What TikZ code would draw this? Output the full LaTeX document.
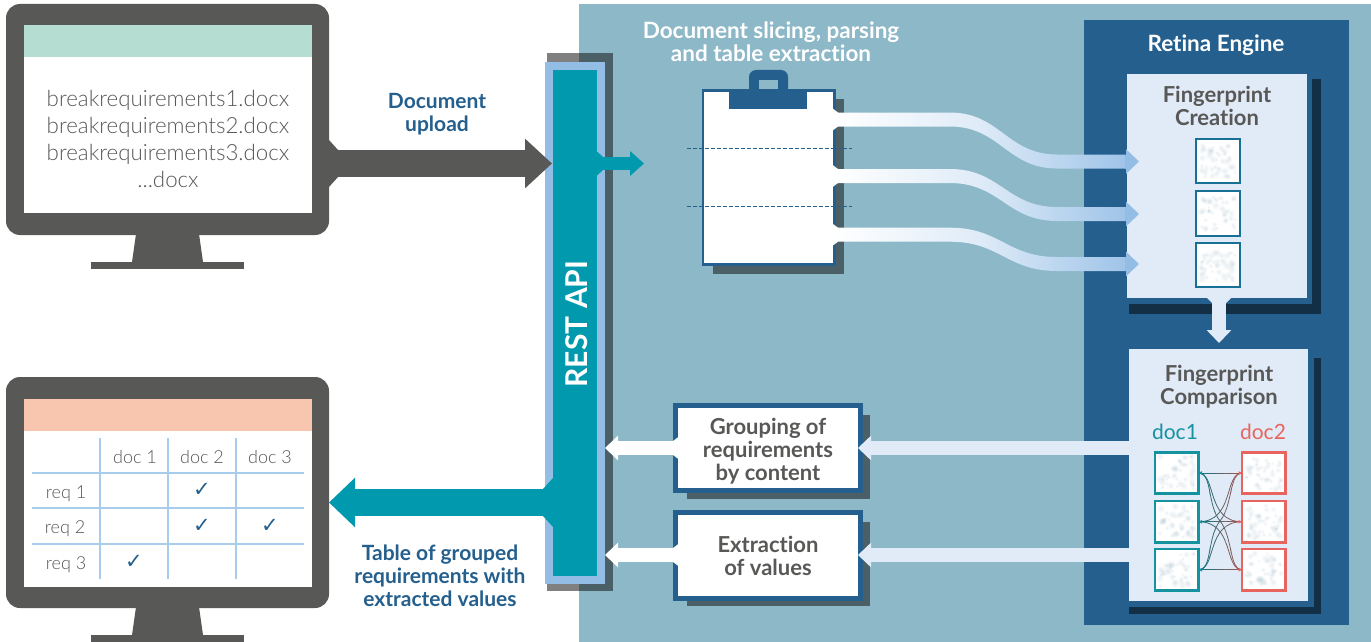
\documentclass[tikz,border=0pt]{standalone}
\usepackage{fontspec}
\setmainfont{Lato}[Ligatures=NoCommon]
\newfontfamily\lightfont{Lato}[UprightFont=* Light,Ligatures=NoCommon]
\newfontfamily\symfont{DejaVu Sans}
\usetikzlibrary{arrows.meta,calc}
\definecolor{panelbg}{HTML}{8CB8C8}
\definecolor{enginebl}{HTML}{245F8D}
\definecolor{shadowc}{HTML}{4A5F66}
\definecolor{darkshadow}{HTML}{122F45}
\definecolor{lightbl}{HTML}{94BDE6}
\definecolor{paleb}{HTML}{E1EBF7}
\definecolor{tealc}{HTML}{0099AD}
\definecolor{monitorc}{HTML}{585857}
\definecolor{textg}{HTML}{585857}
\definecolor{screeng}{HTML}{B5DDD2}
\definecolor{screeno}{HTML}{F8C6AF}
\definecolor{gridc}{HTML}{A8CDEC}
\definecolor{reddoc}{HTML}{E8655F}
\definecolor{tealdoc}{HTML}{14929F}
\definecolor{speck}{HTML}{2F7396}
\pgfmathsetseed{4242}
\tikzset{
  bt/.style={font=\bfseries\fontsize{21}{23}\selectfont,align=center,inner sep=0,outer sep=0},
  bluetext/.style={bt,text=enginebl},
  whitetext/.style={bt,text=white,font=\bfseries\fontsize{22.5}{23}\selectfont},
  greytext/.style={bt,text=textg,font=\bfseries\fontsize{22}{23}\selectfont},
  filetext/.style={font=\lightfont\fontsize{22.3}{26.7}\selectfont,align=center,text=textg,inner sep=0},
  celltext/.style={font=\lightfont\fontsize{18}{18}\selectfont,text=textg,inner sep=0},
  checktext/.style={font=\symfont\fontsize{21}{21}\selectfont,text=enginebl,inner sep=0},
  doctext/.style={font=\fontsize{21}{23}\selectfont,inner sep=0},
  gridline/.style={draw=gridc,line width=1.3pt},
  blockarrow/.style n args={3}{line width=#1pt,-{Triangle[length=#2pt,width=#3pt]}},
  flowfill/.style={left color=white,right color=lightbl!90!white,middle color=white!70!lightbl},
}
\newcommand\bx[6]{\node[#2,inner sep=0,outer sep=0,minimum width={(#5-#3)*1pt},minimum height={(#6-#4)*1pt}] (#1) at ({(#3+#5)/2},{(#4+#6)/2}) {};}
\newcommand\speckle[1]{%
  \foreach \i in {1,...,42}{%
    \pgfmathsetmacro\dx{rand*17.5}\pgfmathsetmacro\dy{rand*16.5}\pgfmathsetmacro\rr{1.6+rnd*2.6}%
    \fill[speck,opacity=.025] ([shift={(\dx pt,\dy pt)}]#1.center) circle[radius=\rr];
    \fill[speck,opacity=.03] ([shift={(\dx pt,\dy pt)}]#1.center) circle[radius=\rr*.65];
    \fill[speck,opacity=.035] ([shift={(\dx pt,\dy pt)}]#1.center) circle[radius=\rr*.35];
  }}
\newcommand\monitor[3]{%
  \fill[monitorc,rounded corners=14pt] (6,#2) rectangle (329,#3);
  \fill[monitorc] (136,#3-1) -- (199,#3-1) -- (203,#3+27) -- (132,#3+27) -- cycle;
  \fill[monitorc] (91,#3+27) rectangle (244,#3+34);
}
\newcommand\flowband[4]{%
  \shade[flowfill] (#1,#3-7) -- (950,#3-7) .. controls (1000,#3-7) and (1007,#4-7) .. (1057,#4-7) -- (#2,#4-7)
     -- (#2,#4+7) -- (1057,#4+7) .. controls (1007,#4+7) and (1000,#3+7) .. (950,#3+7) -- (#1,#3+7) -- cycle;
  \fill[white] (832,#3-11.5) -- (838,#3-7) -- (838,#3+7) -- (832,#3+11.5) -- cycle;
}
\newcommand\alllinks{%
  \draw (dat.east) -- (eat.west);
  \draw (dbt.east) -- (ebt.west);
  \draw (dct.east) -- (ect.west);
  \draw (dat.east) .. controls +(18,0) and +(-36,0) .. (ebt.west);
  \draw (dct.east) .. controls +(18,0) and +(-36,0) .. (ebt.west);
  \draw (dbt.east) .. controls +(36,0) and +(-18,0) .. (eat.west);
  \draw (dbt.east) .. controls +(36,0) and +(-18,0) .. (ect.west);
  \draw (dat.east) .. controls +(14,0) and (1207,505) .. (1220,521) .. controls (1233,537) and ($(ect.west)+(-13,0)$) .. (ect.west);
  \draw (dct.east) .. controls +(14,0) and (1207,537) .. (1220,521) .. controls (1233,505) and ($(eat.west)+(-13,0)$) .. (eat.west);
}
\begin{document}
\begin{tikzpicture}[x=1pt,y=-1pt]
\useasboundingbox (0,0) rectangle (1371,642);
\fill[white] (0,0) rectangle (1371,642);
\fill[black!50] (547,53) rectangle (579,591);
\bx{panel}{fill=panelbg}{579}{4}{1371}{642}
\bx{engine}{fill=enginebl}{1084}{20}{1349}{625}
\node[whitetext] (retina) at (1216,45.5) {Retina Engine};
% REST API
\fill[shadowc] (579,53) rectangle (613,591);
\bx{restouter}{fill=lightbl}{545}{62}{605}{584}
\bx{rest}{fill=tealc}{553}{70}{597}{576}
\node[whitetext,rotate=90,font=\bfseries\fontsize{30}{32}\selectfont] (restlabel) at (577,324) {REST API};
% top monitor
\monitor{m1}{4}{235}
\bx{screen1}{fill=white}{24}{25}{312}{213}
\bx{head1}{fill=screeng}{24}{25}{312}{57}
\node[filetext] (files) at (168,139) {breakrequirements1.docx\\breakrequirements2.docx\\breakrequirements3.docx\\...docx};
% bottom monitor
\monitor{m2}{377}{608}
\bx{screen2}{fill=white}{24}{399}{312}{587}
\bx{head2}{fill=screeno}{24}{399}{312}{431}
\foreach \x in {100,168,236} \draw[gridline] (\x,438) -- (\x,579);
\foreach \y in {473,508,544} \draw[gridline] (32,\y) -- (304,\y);
\node[celltext] (c1) at (135,457) {doc 1};
\node[celltext] (c2) at (202,457) {doc 2};
\node[celltext] (c3) at (270,457) {doc 3};
\node[celltext] (r1) at (66,494) {req 1};
\node[celltext] (r2) at (65,529) {req 2};
\node[celltext] (r3) at (66,565) {req 3};
\node[checktext] (k1) at (202,490) {✓};
\node[checktext] (k2) at (202,526) {✓};
\node[checktext] (k3) at (270,526) {✓};
\node[checktext] (k4) at (134,562) {✓};
% big arrows
\coordinate (upA) at (329,163.5);
\coordinate (upB) at (552,163.5);
\fill[monitorc] (329,140) -- (338,150) -- (338,177) -- (329,187) -- cycle;
\draw[monitorc,blockarrow={27}{27}{48}] (upA) -- (upB);
\node[bluetext] (uplabel) at (437,114) {Document\\upload};
\coordinate (outA) at (553,502.5);
\coordinate (outB) at (329,502.5);
\fill[tealc] (553,478) -- (543,489) -- (543,516) -- (553,527) -- cycle;
\draw[tealc,blockarrow={27}{26}{48}] (outA) -- (outB);
\node[bluetext] (outlabel) at (440,576) {Table of grouped\\requirements with\\extracted values};
\coordinate (restOutA) at (597,163.5);
\coordinate (restOutB) at (644,163.5);
\fill[tealc] (597,151.5) -- (603,157) -- (603,170) -- (597,175.5) -- cycle;
\draw[tealc,blockarrow={13}{14}{24}] (restOutA) -- (restOutB);
% clipboard
\node[whitetext] (sliceLabel) at (771,42) {Document slicing, parsing\\and table extraction};
\fill[shadowc] (713,99) rectangle (844,274);
\node[draw=enginebl,fill=white,line width=2.7pt,inner sep=0,outer sep=0,minimum width=131.5pt,minimum height=174pt] (clip) at (768.75,177.5) {};
\fill[enginebl,rounded corners=7pt] (749,95) -- (749,70) -- (788,70) -- (788,95) -- cycle;
\fill[panelbg] (759,80) rectangle (778,89);
\fill[enginebl] (729,89) rectangle (807,109);
% fingerprint creation panel
\fill[darkshadow] (1129,79) rectangle (1321,314);
\fill[enginebl] (1127,74) rectangle (1312,304);
\bx{creation}{fill=paleb}{1127}{74}{1307}{298}
\node[greytext] (creationLabel) at (1217,105.5) {Fingerprint\\Creation};
\foreach \n/\a/\b in {fa/139/183,fb/190.5/235.5,fc/243/287}{
  \bx{\n}{fill=white}{1196}{\a}{1240}{\b}
  \speckle{\n}
  \bx{\n b}{draw=enginebl!70!tealc,line width=2pt}{1196}{\a}{1240}{\b}
}
% flow bands
\flowband{832}{1127}{119.5}{161.5}
\flowband{832}{1127}{176}{214}
\flowband{832}{1127}{234.7}{264}
\foreach \y [count=\k] in {161.5,214,264}{
  \coordinate (flowA\k) at (1125,\y);
  \coordinate (flowB\k) at (1139,\y);
  \draw[lightbl,blockarrow={14}{13}{24}] (flowA\k) -- (flowB\k);
}
\foreach \y in {148,206} \draw[enginebl,line width=1pt,dash pattern=on 3.5pt off 2.5pt] (687,\y) -- (852,\y);
% down arrow
\coordinate (dnA) at (1219,296);
\coordinate (dnB) at (1219,343);
\fill[paleb] (1207,298) -- (1212,303) -- (1226,303) -- (1231,298) -- cycle;
\draw[paleb,blockarrow={14}{13}{24}] (dnA) -- (dnB);
% fingerprint comparison panel
\fill[darkshadow] (1129,358) rectangle (1321,614);
\fill[enginebl] (1129,349) rectangle (1314,607);
\bx{comparison}{fill=paleb}{1129}{349}{1308}{601}
\node[greytext] (comparisonLabel) at (1219,386.5) {Fingerprint\\Comparison};
\node[doctext,text=tealdoc] (doc1) at (1175,432) {doc1};
\node[doctext,text=reddoc] (doc2) at (1263,432) {doc2};
\foreach \n/\a/\b in {da/452.5/493.5,db/501/542.5,dc/549/590.5}{
  \bx{\n}{fill=white}{1155}{\a}{1198.5}{\b}
  \speckle{\n}
  \bx{\n t}{draw=tealdoc,line width=2.2pt}{1155}{\a}{1198.5}{\b}
}
\foreach \n/\a/\b in {ea/452.5/493.5,eb/501/542.5,ec/549/590.5}{
  \bx{\n}{fill=white}{1242}{\a}{1285.5}{\b}
  \speckle{\n}
  \bx{\n t}{draw=reddoc,line width=2.2pt}{1242}{\a}{1285.5}{\b}
}
% links, shaded from teal to red by slices
\foreach \p [count=\j from 0] in {100,88,76,64,52,40,28,16}{
  \pgfmathsetmacro\xa{1199+\j*5.3}
  \pgfmathsetmacro\xb{\xa+5.5}
  \begin{scope}
    \clip (\xa,445) rectangle (\xb,597);
    \colorlet{linkc}{tealdoc!\p!reddoc!80!black}
    \begin{scope}[draw=linkc,line width=.8pt]\alllinks\end{scope}
  \end{scope}
}
\foreach \n in {dat,dbt,dct}{
  \fill[tealdoc] (\n.east) -- ++(3.5,-1.8) -- ++(0,3.6) -- cycle;
}
\foreach \n in {eat,ebt,ect}{
  \fill[reddoc] (\n.west) -- ++(-3.5,-1.8) -- ++(0,3.6) -- cycle;
}
% result boxes
\fill[shadowc] (687,415) rectangle (870,499);
\node[draw=enginebl,fill=white,line width=5pt,inner sep=0,outer sep=0,minimum width=185pt,minimum height=85.5pt] (group) at (768,448) {};
\node[greytext] (groupLabel) at (768,451) {Grouping of\\requirements\\by content};
\fill[shadowc] (687,522) rectangle (870,606);
\node[draw=enginebl,fill=white,line width=5pt,inner sep=0,outer sep=0,minimum width=185pt,minimum height=86pt] (extract) at (768,555.5) {};
\node[greytext] (extractLabel) at (768,555.5) {Extraction\\of values};
\coordinate (compA) at (1129,448);
\coordinate (compB) at (1129,555);
\coordinate (grpTip) at (858,448);
\coordinate (extTip) at (858,555);
\draw[paleb,blockarrow={14}{13}{24}] (compA) -- (grpTip);
\draw[paleb,blockarrow={14}{13}{24}] (compB) -- (extTip);
\coordinate (grpA) at (676,448);
\coordinate (extA) at (676,555);
\coordinate (restIn1) at (605,448);
\coordinate (restIn2) at (605,555);
\foreach \y in {448,555} \fill[white] (679,\y-11.5) -- (673,\y-7) -- (673,\y+7) -- (679,\y+11.5) -- cycle;
\draw[white,blockarrow={14}{13}{24}] (grpA) -- (restIn1);
\draw[white,blockarrow={14}{13}{24}] (extA) -- (restIn2);
\end{tikzpicture}
\end{document}
